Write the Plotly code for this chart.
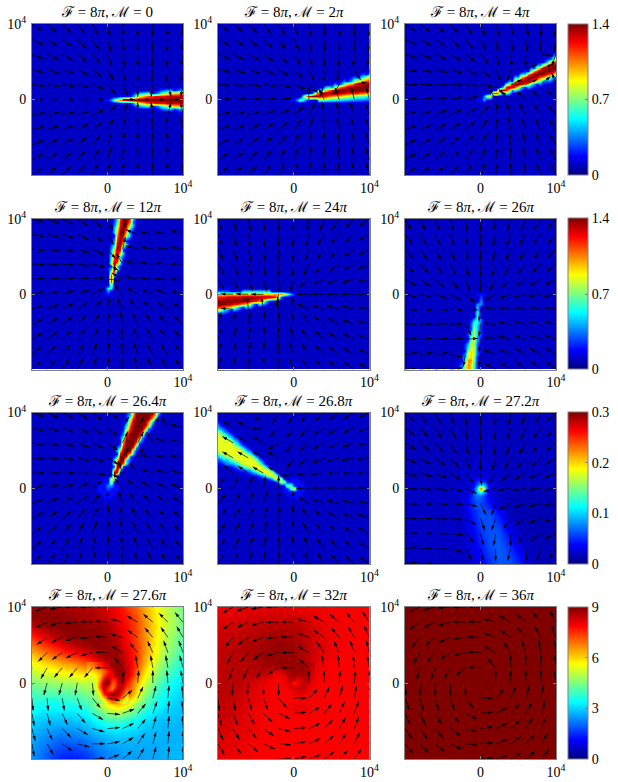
import numpy as np
import plotly.graph_objects as go

# field values are read off the picture as hex levels (0-f) along short strips
# on a 49x49 grid, everything else in a panel stays at the background level
GRID_HALF = 24
EXTENT = 10000
CORE_EXTENT = 2500
ARROW_LEN = 1650
JET = [[0, "#000080"], [0.125, "#0000ff"], [0.375, "#00ffff"], [0.625, "#ffff00"], [0.875, "#ff0000"], [1, "#800000"]]
GREY = "#808080"
FONT = "Liberation Serif"

M_LABELS = ["0", "2<i>π</i>", "4<i>π</i>", "12<i>π</i>", "24<i>π</i>", "26<i>π</i>",
            "26.4<i>π</i>", "26.8<i>π</i>", "27.2<i>π</i>", "27.6<i>π</i>", "32<i>π</i>", "36<i>π</i>"]
ROW_ZMAX = [1.4, 1.4, 0.3, 9]
ROW_TICKS = [[0, 0.7, 1.4], [0, 0.7, 1.4], [0, 0.1, 0.2, 0.3], [0, 3, 6, 9]]
ROW_TICK_TEXT = [["0", "0.7", "1.4"], ["0", "0.7", "1.4"], ["0", "0.1", "0.2", "0.3"], ["0", "3", "6", "9"]]

GLOW = [(0, -1, "222")]
GLOW_WIDE = [(3, -1, "222"), (2, -2, "22222"), (1, -3, "2222222"), (0, -3, "2223222"),
             (-1, -3, "2222222"), (-2, -2, "22222"), (-3, -1, "222")]

# (column, first row, levels)
STRIPS_1 = [(1, 0, "4"), (2, 0, "7"), (3, 0, "9"), (4, -1, "2b2"), (5, -1, "2d2"), (6, -1, "2e2"), (7, -1, "2f2"),
            (8, -1, "4f4"), (9, -1, "7f7"), (10, -1, "9f9"), (11, -1, "afa"), (12, -1, "bfb"), (13, -1, "cfc"),
            (14, -2, "2cfc2"), (15, -2, "3dfd3"), (16, -2, "4dfd4"), (17, -2, "6dfd6"), (18, -2, "7dfd7"),
            (19, -2, "8efe8"), (20, -2, "9efe9"), (21, -3, "2aefea2"), (22, -3, "3aefea3"), (23, -3, "4befeb4"),
            (24, -3, "4befeb4")]
STRIPS_2 = [(1, 0, "4"), (2, 0, "7"), (3, 0, "66"), (4, 0, "3b"), (5, 0, "2e"), (6, 1, "f4"), (7, 1, "fa"), (8, 1, "ed"),
            (9, 1, "df4"), (10, 1, "df9"), (11, 1, "cfb"), (12, 1, "bfd4"), (13, 1, "bfe8"), (14, 1, "affa2"),
            (15, 1, "aefc4"), (16, 1, "9efd7"), (17, 1, "9dfea2"), (18, 1, "8dffb4"), (19, 1, "8dffc7"),
            (20, 1, "7dffd92"), (21, 1, "7cffea4"), (22, 1, "7cffeb6"), (23, 1, "6beffc82"), (24, 1, "6beffda4")]
STRIPS_3 = [(1, 0, "44"), (2, 1, "8"), (3, 1, "9"), (4, 2, "c"), (5, 2, "e2"), (6, 2, "9d"), (7, 2, "3f5"), (8, 3, "dd"),
            (9, 3, "af8"), (10, 3, "4fd2"), (11, 4, "cfa"), (12, 4, "9fd4"), (13, 4, "5efa"), (14, 4, "2cfd5"),
            (15, 5, "9ffb2"), (16, 5, "6dfd7"), (17, 5, "4bffb3"), (18, 5, "29efd8"), (19, 6, "7cffb4"),
            (20, 6, "4bffd92"), (21, 6, "39dffb5"), (22, 7, "7cffda3"), (23, 7, "4beffc6"), (24, 7, "39dffda4")]
STRIPS_5 = [(-1, 0, "4"), (-2, 0, "7"), (-3, 0, "9"), (-4, -1, "3b"), (-5, -1, "aa"), (-6, -1, "db"), (-7, -1, "ea"),
            (-8, -2, "2fa"), (-9, -2, "6fa"), (-10, -2, "afa"), (-11, -2, "bfa"), (-12, -3, "2dfa"), (-13, -3, "4dfa"),
            (-14, -3, "8efa"), (-15, -3, "affa"), (-16, -4, "2bffa"), (-17, -4, "4cfea2"), (-18, -4, "6dfea2"),
            (-19, -4, "8dfea2"), (-20, -5, "2aefea2"), (-21, -5, "4befea3"), (-22, -5, "5bffda3"),
            (-23, -5, "7cffda3"), (-24, -6, "29dffda3")]
STRIPS_8 = [(0, 0, "a"), (-1, 0, "77"), (-2, 1, "8"), (-3, 1, "28"), (-4, 2, "98"), (-5, 2, "495"), (-6, 2, "2994"),
            (-7, 3, "5993"), (-8, 3, "39982"), (-9, 3, "269962"), (-10, 4, "49995"), (-11, 4, "379984"),
            (-12, 4, "2599984"), (-13, 5, "4799973"), (-14, 5, "35999963"), (-15, 5, "248999853"),
            (-16, 6, "369999852"), (-17, 6, "3589999742"), (-18, 6, "24699999642"), (-19, 7, "35899998532"),
            (-20, 7, "24799999853"), (-21, 7, "245899999753"), (-22, 8, "357999998743"), (-23, 8, "2468999998642"),
            (-24, 8, "23579999998542")]

# (row, first column, levels)
STRIPS_4 = [(1, 0, "4"), (2, 0, "66"), (3, 1, "8"), (4, 1, "c"), (5, 1, "e"), (6, 1, "c5"), (7, 1, "9d"), (8, 1, "5f"),
            (9, 1, "3f5"), (10, 2, "fb"), (11, 2, "de"), (12, 2, "cf5"), (13, 2, "afa"), (14, 2, "9fd2"), (15, 2, "7fe5"),
            (16, 2, "5efa"), (17, 2, "4dfc2"), (18, 2, "3cfd5"), (19, 2, "2bfe9"), (20, 3, "affb3"), (21, 3, "9efd6"),
            (22, 3, "7dfe9"), (23, 3, "6dffb3"), (24, 3, "5cffc5")]
STRIPS_6 = [(-1, 0, "3"), (-2, 0, "4"), (-3, -1, "44"), (-4, -1, "5"), (-5, -1, "5"), (-6, -2, "262"), (-7, -1, "6"),
            (-8, -2, "46"), (-9, -2, "66"), (-10, -2, "75"), (-11, -3, "385"), (-12, -3, "585"), (-13, -3, "685"),
            (-14, -4, "2894"), (-15, -4, "3884"), (-16, -4, "5983"), (-17, -4, "6983"), (-18, -5, "28a83"),
            (-19, -5, "49a83"), (-20, -5, "59a72"), (-21, -6, "26bb72"), (-22, -6, "37ba62"), (-23, -6, "49ba62"),
            (-24, -7, "259ba62")]
STRIPS_7 = [(1, 0, "44"), (2, 1, "a"), (3, 1, "98"), (4, 2, "e"), (5, 2, "fe"), (6, 2, "af6"), (7, 2, "3ff2"), (8, 3, "efc"),
            (9, 3, "aff6"), (10, 3, "5ffe3"), (11, 3, "2dffb"), (12, 4, "afff6"), (13, 4, "6effd4"), (14, 4, "3cfffa2"),
            (15, 4, "2afffe6"), (16, 5, "6efffc4"), (17, 5, "4cfffea2"), (18, 5, "3aefffd6"), (19, 5, "27dffffb4"),
            (20, 6, "5cffffea3"), (21, 6, "3aeffffc62"), (22, 6, "28dfffffb5"), (23, 7, "5bfffffda3"),
            (24, 7, "4aefffffc62")]

# smooth panels: 17x17 samples, top row first
FIELD_9 = [
    [.018, .018, .018, .018, .018, .018, .018, .018, .02, .018, .018, .018, .018, .018, .018, .018, .018],
    [.018, .018, .018, .018, .018, .018, .018, .018, .02, .018, .018, .018, .018, .018, .018, .018, .018],
    [.018, .018, .018, .018, .018, .018, .018, .018, .02, .018, .018, .018, .018, .018, .018, .018, .018],
    [.018, .018, .018, .018, .018, .018, .018, .019, .02, .019, .018, .018, .018, .018, .018, .018, .018],
    [.018, .018, .018, .018, .018, .018, .018, .019, .021, .019, .018, .018, .018, .018, .018, .018, .018],
    [.018, .018, .018, .018, .018, .018, .018, .02, .022, .02, .018, .018, .018, .018, .018, .018, .018],
    [.018, .018, .018, .018, .018, .018, .019, .022, .028, .022, .018, .018, .018, .018, .018, .018, .018],
    [.018, .018, .018, .018, .018, .018, .02, .03, .05, .03, .02, .018, .018, .018, .018, .018, .018],
    [.02, .02, .02, .02, .02, .02, .025, .04, .2, .035, .025, .02, .018, .018, .018, .018, .018],
    [.02, .02, .02, .02, .02, .02, .025, .05, .06, .035, .02, .015, .015, .015, .015, .015, .015],
    [.02, .02, .02, .02, .02, .02, .02, .045, .06, .055, .03, .015, .015, .015, .015, .015, .015],
    [.02, .02, .02, .02, .02, .02, .02, .04, .06, .06, .045, .02, .015, .015, .015, .015, .015],
    [.02, .02, .02, .02, .02, .02, .02, .035, .055, .062, .055, .03, .018, .015, .015, .015, .015],
    [.02, .02, .02, .02, .02, .02, .02, .03, .05, .062, .062, .04, .02, .016, .015, .015, .015],
    [.02, .02, .02, .02, .02, .02, .02, .028, .045, .06, .065, .05, .03, .018, .016, .016, .016],
    [.02, .02, .02, .02, .02, .02, .02, .025, .04, .055, .065, .058, .04, .022, .018, .016, .016],
    [.02, .02, .02, .02, .02, .02, .02, .025, .035, .05, .062, .062, .05, .03, .02, .018, .016],
]
FIELD_10 = [
    [8.8, 8.8, 8.8, 8.7, 8.6, 8.6, 8.5, 8.4, 8.2, 7.9, 7.5, 7, 6.3, 5.7, 5.2, 4.8, 4.4],
    [8.9, 8.9, 8.9, 8.9, 8.8, 8.7, 8.7, 8.5, 8.3, 8, 7.7, 7.2, 6.5, 5.8, 5.2, 4.8, 4.4],
    [8.4, 8.7, 8.9, 8.9, 8.9, 8.9, 8.8, 8.8, 8.6, 8.2, 7.8, 7.3, 6.6, 5.9, 5.2, 4.8, 4.3],
    [7.6, 8, 8.4, 8.7, 8.9, 8.9, 8.9, 8.9, 8.7, 8.4, 7.9, 7.3, 6.6, 5.8, 5.1, 4.6, 4.2],
    [6.9, 7.3, 7.7, 8, 8.4, 8.6, 8.8, 8.9, 8.8, 8.6, 8, 7.4, 6.6, 5.7, 5, 4.5, 4.1],
    [6.1, 6.5, 6.9, 7.2, 7.5, 7.8, 8.1, 8.6, 8.8, 8.8, 8.2, 7.5, 6.5, 5.6, 4.8, 4.3, 3.9],
    [5.5, 5.8, 6, 6.3, 6.5, 6.8, 7.2, 7.8, 8.5, 8.8, 8.4, 7.4, 6.2, 5.2, 4.5, 4, 3.6],
    [5, 5.2, 5.3, 5.5, 5.6, 5.8, 6, 6.7, 7.7, 8.7, 8.5, 7.1, 5.7, 4.8, 4.1, 3.7, 3.4],
    [4.5, 4.6, 4.7, 4.8, 4.8, 4.9, 5.2, 6, 7, 8.3, 7.8, 6.4, 5.2, 4.3, 3.8, 3.4, 3.2],
    [4, 4.1, 4.1, 4.1, 4.2, 4.3, 4.6, 5.4, 7.2, 8.2, 7.6, 5.9, 4.7, 3.9, 3.5, 3.2, 3],
    [3.7, 3.6, 3.5, 3.6, 3.7, 3.8, 4.2, 4.9, 6, 6.6, 6.2, 4.9, 4.2, 3.6, 3.3, 3, 2.9],
    [3.4, 3.2, 3.2, 3.2, 3.2, 3.3, 3.6, 4.2, 4.8, 5, 4.7, 4.1, 3.6, 3.2, 3, 2.9, 2.8],
    [3, 2.9, 2.8, 2.8, 2.8, 2.9, 3.1, 3.5, 3.8, 3.9, 3.7, 3.4, 3.1, 2.9, 2.8, 2.8, 2.7],
    [2.8, 2.6, 2.5, 2.4, 2.4, 2.5, 2.7, 2.9, 3.1, 3.2, 3.1, 3, 2.8, 2.8, 2.7, 2.7, 2.7],
    [2.6, 2.4, 2.2, 2, 2.1, 2.1, 2.3, 2.5, 2.7, 2.8, 2.8, 2.7, 2.7, 2.7, 2.7, 2.7, 2.7],
    [2.5, 2.2, 1.9, 1.7, 1.6, 1.7, 1.9, 2.2, 2.4, 2.5, 2.6, 2.6, 2.6, 2.6, 2.7, 2.7, 2.8],
    [2.4, 2.1, 1.7, 1.4, 1.3, 1.4, 1.6, 2, 2.2, 2.4, 2.5, 2.5, 2.6, 2.6, 2.7, 2.8, 2.8],
]
FIELD_11 = [
    [8, 8, 8.1, 8.1, 8.1, 8.1, 8.1, 8.1, 8.1, 8, 8, 8, 7.9, 7.9, 7.9, 7.9, 7.9],
    [8.1, 8.1, 8.2, 8.2, 8.3, 8.3, 8.3, 8.3, 8.3, 8.2, 8.1, 8, 8, 7.9, 7.9, 7.9, 7.9],
    [8.2, 8.3, 8.3, 8.4, 8.4, 8.5, 8.5, 8.5, 8.5, 8.4, 8.2, 8.1, 8, 8, 7.9, 7.9, 7.9],
    [8.3, 8.4, 8.4, 8.5, 8.6, 8.6, 8.7, 8.7, 8.6, 8.5, 8.3, 8.1, 8, 8, 7.9, 7.9, 7.9],
    [8.4, 8.4, 8.5, 8.6, 8.6, 8.7, 8.8, 8.8, 8.7, 8.6, 8.3, 8.2, 8, 8, 7.9, 7.9, 7.9],
    [8.4, 8.5, 8.5, 8.6, 8.7, 8.8, 8.8, 8.8, 8.8, 8.6, 8.3, 8.1, 8, 7.9, 7.9, 7.9, 7.9],
    [8.4, 8.5, 8.5, 8.5, 8.6, 8.7, 8.8, 8.8, 8.8, 8.6, 8.2, 8, 7.9, 7.9, 7.9, 7.9, 7.9],
    [8.4, 8.5, 8.5, 8.5, 8.5, 8.4, 8.2, 8.4, 8.7, 8.5, 8.1, 7.9, 7.9, 7.9, 7.9, 7.9, 7.9],
    [8.5, 8.5, 8.5, 8.4, 8.2, 8, 7.9, 7.9, 7.8, 8.2, 8, 7.9, 7.9, 7.9, 7.9, 7.9, 7.9],
    [8.5, 8.5, 8.4, 8.2, 8.1, 8, 7.9, 7.9, 8.2, 8.2, 8, 7.9, 7.9, 7.9, 7.9, 7.9, 7.9],
    [8.4, 8.4, 8.3, 8.2, 8.1, 8, 7.9, 8, 8.1, 8.1, 8, 7.9, 7.9, 7.9, 7.9, 7.9, 7.9],
    [8.4, 8.4, 8.3, 8.1, 8, 7.9, 7.9, 7.9, 8, 8, 7.9, 7.9, 7.9, 7.9, 7.9, 7.9, 7.9],
    [8.3, 8.3, 8.2, 8.1, 8, 7.9, 7.9, 7.9, 7.9, 7.9, 7.9, 7.9, 7.9, 7.9, 7.9, 7.9, 7.9],
    [8.3, 8.2, 8.1, 8.1, 8, 7.9, 7.9, 7.9, 7.9, 7.9, 7.9, 7.9, 7.9, 7.9, 7.9, 7.9, 7.9],
    [8.2, 8.1, 8.1, 8, 7.9, 7.9, 7.9, 7.9, 7.9, 7.9, 7.9, 7.9, 7.9, 7.9, 7.9, 7.9, 7.9],
    [8.1, 8.1, 8, 8, 7.9, 7.9, 7.9, 7.9, 7.9, 7.9, 7.9, 7.9, 7.9, 7.9, 7.9, 7.9, 7.9],
    [8.1, 8, 8, 8, 7.9, 7.9, 7.9, 7.9, 7.9, 7.9, 7.9, 7.9, 7.9, 7.9, 7.9, 7.9, 7.9],
]
FIELD_12 = [[9, 9], [9, 9]]

# finer 11x11 samples around the origin, laid over the coarse field
CORE_9 = [
    [.022, .022, .022, .022, .022, .022, .022, .022, .022, .022, .02],
    [.022, .022, .022, .022, .022, .024, .022, .022, .022, .022, .02],
    [.022, .022, .022, .025, .028, .03, .028, .025, .022, .022, .02],
    [.022, .022, .023, .03, .045, .05, .04, .028, .022, .022, .02],
    [.022, .022, .025, .03, .06, .1, .08, .04, .025, .022, .02],
    [.022, .022, .028, .04, .1, .25, .12, .04, .025, .022, .02],
    [.022, .025, .03, .05, .09, .12, .07, .035, .025, .02, .018],
    [.025, .028, .035, .055, .075, .07, .05, .035, .028, .022, .018],
    [.025, .03, .04, .055, .065, .06, .05, .04, .03, .025, .02],
    [.025, .03, .04, .05, .06, .06, .05, .045, .035, .025, .02],
    [.025, .03, .04, .05, .06, .06, .055, .05, .04, .03, .02],
]
CORE_10 = [
    [6.8, 7, 7.3, 7.6, 8, 8.5, 8.8, 8.8, 8.8, 8.6, 8.2],
    [6.3, 6.5, 6.8, 7.1, 7.5, 8, 8.5, 8.8, 8.8, 8.7, 8.3],
    [5.9, 6, 6.2, 6.5, 7, 7.6, 8.2, 8.7, 8.9, 8.8, 8.3],
    [5.5, 5.5, 5.7, 6.2, 7.3, 8, 8, 8.4, 8.9, 8.8, 8.2],
    [5.2, 5.2, 5.5, 6.5, 8, 8.8, 7.6, 7.6, 8.7, 8.7, 8],
    [5, 5, 5.4, 7, 8.8, 8.9, 7.2, 7.2, 8.5, 8.5, 7.6],
    [4.9, 4.9, 5.3, 7.2, 8.5, 7.8, 6.6, 7.4, 8.6, 8.2, 7.2],
    [4.7, 4.8, 5, 6.5, 8.2, 7.5, 7.2, 8.2, 8.8, 7.8, 6.8],
    [4.5, 4.6, 4.8, 5.6, 7.6, 8.4, 8.8, 8.8, 8.3, 7.2, 6.2],
    [4.3, 4.4, 4.6, 5, 6, 7.3, 8, 8, 7.5, 6.5, 5.7],
    [4.1, 4.2, 4.4, 4.6, 5.2, 6, 6.6, 6.7, 6.2, 5.4, 4.9],
]
CORE_11 = [
    [8.7, 8.8, 8.8, 8.8, 8.8, 8.8, 8.8, 8.8, 8.7, 8.6, 8.4],
    [8.5, 8.6, 8.7, 8.8, 8.8, 8.8, 8.8, 8.8, 8.7, 8.5, 8.3],
    [8.2, 8.3, 8.4, 8.6, 8.7, 8.8, 8.8, 8.8, 8.7, 8.5, 8.2],
    [8, 8, 8.1, 8.3, 8.6, 8.7, 8.6, 8.7, 8.6, 8.4, 8.2],
    [7.9, 7.9, 7.9, 8.1, 8.5, 8.4, 8.1, 8.3, 8.5, 8.3, 8.1],
    [7.9, 7.9, 7.9, 8, 8.3, 7.6, 8, 8.3, 8.4, 8.2, 8],
    [7.9, 7.9, 7.9, 7.9, 8.2, 8.3, 8.3, 8.4, 8.3, 8.1, 8],
    [7.9, 7.9, 7.9, 7.9, 8, 8.2, 8.3, 8.3, 8.2, 8.1, 8],
    [7.9, 7.9, 7.9, 7.9, 7.9, 8, 8.1, 8.1, 8.1, 8, 8],
    [7.9, 7.9, 7.9, 7.9, 7.9, 7.9, 8, 8, 8, 8, 7.9],
    [7.9, 7.9, 7.9, 7.9, 7.9, 7.9, 7.9, 8, 8, 7.9, 7.9],
]

# arrow headings in degrees, 11x11 tails from y=1e4 down to y=-1e4, left to right
N = None
ANGLES_1 = [
    [-34, -40, -44, -53, -63, -78, -85, -90, -92, -93, -95],
    [-28, -34, -37, -47, -58, -75, -84, -90, -92, -94, -96],
    [-22, -27, -30, -39, -50, -70, -82, -90, -93, -95, -98],
    [-15, -18, -21, -28, -39, -61, -77, -90, -94, -97, -100],
    [-8, -10, -11, -15, -22, -50, -66, -90, -98, -75, -100],
    [0, 0, 0, 0, 0, N, 0, 0, 0, 0, 0],
    [8, 10, 11, 15, 22, 50, 66, 90, 98, 75, 100],
    [15, 18, 21, 28, 39, 61, 77, 90, 94, 97, 100],
    [22, 27, 30, 39, 50, 70, 82, 90, 93, 95, 98],
    [28, 34, 37, 47, 58, 75, 84, 90, 92, 94, 96],
    [34, 40, 44, 53, 63, 78, 85, 90, 92, 93, 95],
]
ANGLES_2 = [
    [-35, -39, -45, -52, -60, -70, -81, -85, -87, -90, -92],
    [-29, -33, -38, -45, -54, -65, -79, -86, -89, -92, -95],
    [-22, -25, -30, -36, -45, -57, -75, -88, -92, -96, -101],
    [-14, -17, -20, -25, -32, -45, -67, -92, -99, -60, -80],
    [-6, -7, -8, -11, -14, -22, -44, -107, -120, 10, 10],
    [3, 3, 4, 5, 6, N, 90, 115, 110, 105, 105],
    [11, 13, 15, 19, 25, 37, 61, 100, 103, 110, 112],
    [19, 22, 26, 32, 40, 53, 72, 93, 100, 105, 110],
    [26, 30, 35, 41, 50, 62, 78, 90, 97, 103, 108],
    [33, 37, 42, 49, 58, 68, 81, 90, 96, 101, 106],
    [38, 43, 48, 55, 63, 72, 82, 90, 95, 100, 105],
]
ANGLES_3 = [
    [-33, -38, -43, -50, -58, -68, -73, -76, -78, -90, -95],
    [-26, -30, -35, -42, -51, -64, -78, -78, -85, -95, -100],
    [-19, -22, -25, -30, -38, -52, -72, -85, -90, -8, -110],
    [-11, -13, -15, -19, -26, -39, -65, -105, 23, 23, 20],
    [-3, -3, -4, -5, -7, -11, -52, 23, 23, 40, 110],
    [6, 7, 8, 11, 14, N, 120, 140, 137, 135, 135],
    [15, 17, 20, 24, 30, 45, 80, 110, 120, 125, 130],
    [20, 24, 27, 33, 40, 55, 80, 100, 110, 118, 125],
    [25, 29, 34, 40, 48, 60, 80, 95, 105, 115, 122],
    [30, 34, 39, 46, 53, 65, 80, 92, 103, 112, 118],
    [35, 39, 44, 50, 58, 68, 80, 92, 102, 110, 115],
]
ANGLES_4 = [
    [-15, -20, -25, -32, -43, -65, 77, 175, 170, 165, 160],
    [-12, -15, -20, -26, -37, -60, 77, 160, 170, 170, 160],
    [-7, -9, -12, -18, -27, -50, 77, 165, 170, 172, 170],
    [-3, -4, -6, -8, -14, -30, 120, 165, 172, 175, 178],
    [3, 4, 5, 6, 8, -5, 150, 170, 175, 178, 180],
    [12, 14, 17, 20, 27, N, 130, 150, 155, 160, 165],
    [20, 24, 27, 35, 45, 80, 115, 130, 140, 145, 150],
    [27, 31, 36, 45, 55, 80, 100, 115, 125, 135, 140],
    [33, 38, 43, 52, 62, 80, 95, 110, 120, 130, 135],
    [40, 45, 50, 58, 68, 82, 95, 108, 117, 125, 130],
    [43, 48, 55, 63, 72, 83, 95, 105, 113, 120, 127],
]
ANGLES_5 = [
    [-72, -75, -80, -85, -88, -92, -98, -110, -125, -135, -145],
    [-70, -75, -80, -85, -90, -95, -105, -120, -130, -140, -148],
    [-65, -70, -77, -83, -88, -95, -108, -125, -135, -145, -150],
    [-60, -65, -72, -80, -88, -97, -115, -135, -145, -152, -158],
    [-60, -65, -70, -75, -85, -105, -140, -155, -160, -165, -168],
    [178, 178, 178, 180, -100, N, 180, 180, 180, 180, 180],
    [175, 175, 95, 100, 95, 100, 155, 160, 165, 165, 170],
    [75, 78, 82, 85, 88, 100, 120, 140, 150, 158, 163],
    [72, 75, 80, 85, 90, 105, 125, 138, 148, 155, 160],
    [75, 78, 82, 86, 92, 110, 125, 135, 145, 150, 155],
    [78, 80, 84, 88, 95, 112, 122, 132, 140, 145, 150],
]
ANGLES_6 = [
    [-60, -65, -70, -75, -82, -90, -100, -108, -115, -122, -128],
    [-55, -60, -65, -72, -80, -90, -102, -110, -118, -125, -130],
    [-50, -55, -60, -68, -78, -90, -103, -113, -120, -128, -135],
    [-42, -47, -53, -62, -75, -90, -108, -120, -130, -137, -142],
    [-30, -35, -42, -52, -70, -90, -118, -135, -145, -150, -152],
    [-15, -17, -20, -28, -42, N, -150, -160, -165, -168, -170],
    [-3, -3, -3, -3, -2, -97, 170, 170, 170, 170, 172],
    [3, 3, 3, 3, -62, -97, 175, 170, 165, 165, 165],
    [5, 5, 5, 5, 5, -97, 170, 165, 160, 160, 160],
    [8, 8, 8, -12, -100, -97, 160, 155, 150, 150, 150],
    [10, 10, 10, 8, -98, -97, 150, 145, 140, 140, 140],
]
ANGLES_7 = [
    [-20, -25, -28, -32, -38, -30, 60, 62, 62, 70, 130],
    [-15, -18, -22, -25, -30, -40, 60, 60, 60, 120, 165],
    [-12, -14, -17, -20, -27, -35, 65, 62, 120, 160, 165],
    [-5, -7, -9, -12, -18, -30, 60, 60, 165, 170, 170],
    [0, 0, 0, -2, -8, -20, 110, 130, 160, 165, 170],
    [15, 18, 20, 25, 35, N, 130, 140, 150, 155, 160],
    [20, 25, 30, 35, 50, 90, 110, 130, 140, 145, 150],
    [30, 35, 40, 50, 60, 85, 105, 120, 130, 137, 145],
    [35, 40, 48, 58, 70, 85, 100, 112, 122, 130, 138],
    [40, 45, 55, 65, 75, 85, 97, 107, 117, 125, 133],
    [45, 50, 58, 68, 77, 87, 95, 103, 112, 120, 128],
]
ANGLES_8 = [
    [150, 150, 150, -135, -120, -115, -130, -135, -145, -150, -155],
    [150, 150, 150, -172, -135, -125, -135, -145, -150, -155, -160],
    [150, 150, 150, 150, -148, -130, -140, -150, -155, -160, -165],
    [150, 150, 150, 150, 150, -125, -145, -155, -165, -168, -170],
    [135, 140, 145, 150, 150, -165, -170, -175, -178, -178, -178],
    [60, 65, 70, 80, 90, N, 180, 178, 178, 178, 178],
    [50, 55, 65, 72, 85, 95, 150, 160, 165, 168, 170],
    [50, 55, 62, 70, 85, 95, 125, 140, 150, 155, 160],
    [52, 58, 65, 75, 87, 95, 118, 130, 140, 148, 153],
    [55, 60, 68, 77, 88, 95, 112, 125, 135, 142, 148],
    [60, 65, 72, 82, 88, 92, 108, 120, 130, 137, 145],
]
ANGLES_9 = [
    [-45, -60, -65, -72, -85, -90, -92, -98, -105, -118, -135],
    [-40, -50, -58, -65, -80, -90, -95, -105, -115, -125, -135],
    [-33, -40, -50, -60, -75, -88, -97, -110, -120, -130, -140],
    [-25, -30, -37, -47, -65, -90, -105, -120, -130, -140, -148],
    [-15, -17, -22, -32, -50, -85, -125, -140, -150, -155, -158],
    [-5, -7, -10, -15, -25, N, -165, -170, -170, -172, -172],
    [-3, -3, -4, -5, -15, -65, -110, -152, -160, -165, -170],
    [0, 0, -3, -5, -30, -70, -110, -125, -150, -160, -165],
    [3, 2, 0, -5, -45, -75, -100, -90, -130, -145, -155],
    [8, 5, -3, -15, -60, -75, -90, -105, -85, -110, -125],
    [10, 3, -5, -25, -60, -75, -85, -100, -85, -90, -110],
]
ANGLES_10 = [
    [-160, -160, -170, 180, 180, 175, 165, 150, 140, 130, 125],
    [-145, -155, -165, -175, 178, 175, 165, 150, 140, 135, 130],
    [-135, -145, -155, -165, -175, 175, 165, 145, 130, 125, 120],
    [-125, -135, -145, -155, -165, 178, 150, 130, 115, 110, 110],
    [-110, -120, -130, -130, -130, 180, 130, 100, 100, 100, 105],
    [-100, -105, -105, -100, -85, N, 85, 85, 90, 95, 100],
    [-85, -85, -80, -70, -50, -10, 40, 65, 75, 85, 95],
    [-80, -75, -65, -50, -30, -5, 20, 50, 70, 85, 95],
    [-75, -65, -45, -30, -15, 5, 25, 50, 75, 85, 92],
    [-80, -60, -35, -15, 0, 10, 30, 55, 75, 85, 90],
    [-80, -55, -30, -10, 5, 20, 40, 60, 75, 85, 90],
]
ANGLES_11 = [
    [-145, -150, -160, -170, 180, 175, 165, 150, 140, 130, 125],
    [-135, -145, -155, -165, 180, 178, 165, 150, 140, 130, 125],
    [-125, -130, -145, -160, -175, 178, 160, 145, 130, 120, 115],
    [-115, -120, -130, -145, -165, 180, 150, 125, 115, 110, 105],
    [-105, -110, -115, -125, -150, 180, 140, 100, 95, 95, 100],
    [-95, -95, -95, -90, -90, N, 90, 90, 85, 85, 90],
    [-85, -80, -75, -70, -50, 0, 45, 65, 75, 80, 85],
    [-75, -70, -60, -45, -25, 5, 30, 50, 65, 70, 80],
    [-65, -60, -50, -35, -15, 5, 25, 45, 60, 70, 75],
    [-60, -50, -40, -25, -5, 10, 25, 40, 55, 65, 70],
    [-50, -45, -35, -15, 0, 10, 20, 35, 45, 55, 65],
]
ANGLES_12 = [
    [-150, -155, -165, -175, -178, 178, 165, 155, 145, 135, 125],
    [-135, -145, -155, -165, 178, 178, 165, 150, 140, 130, 120],
    [-125, -130, -140, -155, -170, 178, 160, 145, 130, 120, 110],
    [-110, -120, -130, -145, -165, 178, 150, 125, 110, 100, 100],
    [-100, -105, -110, -120, -140, 178, 130, 90, 90, 90, 95],
    [-85, -90, -90, -90, -90, N, 90, 90, 90, 90, 100],
    [-70, -75, -75, -70, -50, 0, 45, 65, 75, 80, 85],
    [-65, -65, -60, -45, -25, 5, 25, 45, 60, 70, 80],
    [-55, -55, -50, -35, -15, 10, 25, 40, 55, 65, 70],
    [-50, -45, -40, -25, -5, 5, 20, 35, 45, 55, 65],
    [-45, -40, -30, -15, -5, 5, 15, 30, 40, 50, 60],
]

# field, read by columns (None for plain tables), glow, core, arrows
PANELS = [
    (STRIPS_1, True, GLOW, None, ANGLES_1), (STRIPS_2, True, GLOW, None, ANGLES_2), (STRIPS_3, True, GLOW, None, ANGLES_3),
    (STRIPS_4, False, GLOW, None, ANGLES_4), (STRIPS_5, True, GLOW, None, ANGLES_5), (STRIPS_6, False, GLOW, None, ANGLES_6),
    (STRIPS_7, False, GLOW_WIDE, None, ANGLES_7), (STRIPS_8, True, GLOW_WIDE, None, ANGLES_8),
    (FIELD_9, None, [], CORE_9, ANGLES_9),
    (FIELD_10, None, [], CORE_10, ANGLES_10), (FIELD_11, None, [], CORE_11, ANGLES_11),
    (FIELD_12, None, [], None, ANGLES_12),
]

# axes boxes in page pixels
WIDTH, HEIGHT = 618, 782
COLS_PX = [(32, 183), (218, 369.5), (405, 556)]
ROWS_PX = [(24, 175), (219, 369.5), (412.5, 564), (607, 759)]
BAR_LEFT, BAR_WIDTH = 568, 20


def strip_field(strips, by_column, glow, zmax):
    """Background level everywhere, then the read strips on top with a soft rim."""
    size = 2 * GRID_HALF + 1
    levels = np.full((size, size), 1.0)

    def put(line, pos, value, keep_higher=False):
        row, col = (pos, line) if by_column else (line, pos)
        row, col = row + GRID_HALF, col + GRID_HALF
        if 0 <= row < size and 0 <= col < size:
            levels[row, col] = max(levels[row, col], value) if keep_higher else value

    for row, start, digits in glow:
        for k, ch in enumerate(digits):
            levels[row + GRID_HALF, start + k + GRID_HALF] = int(ch, 16)
    for line, start, digits in strips:
        if abs(line) >= 8:
            put(line, start - 1, 0.5 * int(digits[0], 16), True)
            put(line, start + len(digits), 0.5 * int(digits[-1], 16), True)
    for line, start, digits in strips:
        for k, ch in enumerate(digits):
            put(line, start + k, int(ch, 16))
    axis = np.linspace(-EXTENT, EXTENT, size)
    return axis, axis, levels / 15 * zmax


def table_field(table, extent=EXTENT):
    values = np.array(table, dtype=float)
    xs = np.linspace(-extent, extent, values.shape[1])
    ys = np.linspace(extent, -extent, values.shape[0])
    return xs, ys, values


def arrow_traces(angles, xref, yref):
    tails = np.linspace(-EXTENT, EXTENT, 11)
    line_x, line_y, head_x, head_y, head_a = [], [], [], [], []
    for r, row in enumerate(angles):
        for c, a in enumerate(row):
            if a is None:
                continue
            x0, y0 = tails[c], tails[10 - r]
            x1 = x0 + ARROW_LEN * np.cos(np.radians(a))
            y1 = y0 + ARROW_LEN * np.sin(np.radians(a))
            line_x += [x0, x1, None]
            line_y += [y0, y1, None]
            head_x.append(x1)
            head_y.append(y1)
            head_a.append(90 - a)
    return [
        go.Scatter(x=line_x, y=line_y, mode="lines", line=dict(color="black", width=0.7),
                   xaxis=xref, yaxis=yref, hoverinfo="skip", showlegend=False),
        go.Scatter(x=head_x, y=head_y, mode="markers", xaxis=xref, yaxis=yref, hoverinfo="skip", showlegend=False,
                   marker=dict(symbol="arrow", size=5, angle=head_a, color="black", line=dict(width=0))),
    ]


fig = go.Figure()
layout = {}
annotations = []
for n, (field, by_column, glow, core, angles) in enumerate(PANELS):
    r, c = divmod(n, 3)
    zmax = ROW_ZMAX[r]
    if by_column is None:
        xs, ys, z = table_field(field)
    else:
        xs, ys, z = strip_field(field, by_column, glow, zmax)
    (left, right), (top, bottom) = COLS_PX[c], ROWS_PX[r]
    suffix = "" if n == 0 else str(n + 1)
    heat = go.Heatmap(x=xs, y=ys, z=z, zmin=0, zmax=zmax, zsmooth="best", colorscale=JET, hoverinfo="skip",
                      xaxis="x" + suffix, yaxis="y" + suffix, showscale=c == 2)
    if c == 2:
        heat.colorbar = dict(
            x=BAR_LEFT / WIDTH, xanchor="left", xpad=0, ypad=0, thickness=BAR_WIDTH, thicknessmode="pixels",
            y=1 - bottom / HEIGHT, yanchor="bottom", len=(bottom - top) / HEIGHT, lenmode="fraction",
            outlinecolor=GREY, outlinewidth=1, tickvals=ROW_TICKS[r], ticktext=ROW_TICK_TEXT[r],
            ticks="inside", ticklen=3, tickcolor=GREY, tickfont=dict(family=FONT, size=14, color="black"))
    fig.add_trace(heat)
    if core is not None:
        cx, cy, cz = table_field(core, CORE_EXTENT)
        fig.add_trace(go.Heatmap(x=cx, y=cy, z=cz, zmin=0, zmax=zmax, zsmooth="best", colorscale=JET, hoverinfo="skip",
                                 xaxis="x" + suffix, yaxis="y" + suffix, showscale=False))
    for tr in arrow_traces(angles, "x" + suffix, "y" + suffix):
        fig.add_trace(tr)
    axis = dict(range=[-EXTENT, EXTENT], tickvals=[0, EXTENT], ticktext=["0", "10<sup>4</sup>"], ticks="inside", ticklen=3,
                tickcolor=GREY, showline=True, linecolor=GREY, linewidth=1, mirror="ticks", showgrid=False,
                zeroline=False, tickfont=dict(family=FONT, size=14, color="black"))
    layout["xaxis" + suffix] = dict(axis, domain=[left / WIDTH, right / WIDTH], anchor="y" + suffix, ticklabelstandoff=0)
    layout["yaxis" + suffix] = dict(axis, domain=[1 - bottom / HEIGHT, 1 - top / HEIGHT], anchor="x" + suffix, ticklabelstandoff=2)
    annotations.append(dict(text=f"ℱ = 8<i>π</i>, ℳ = {M_LABELS[n]}", x=(left + right) / 2 / WIDTH, y=1 - (top - 2) / HEIGHT,
                            xref="paper", yref="paper", xanchor="center", yanchor="bottom", showarrow=False,
                            font=dict(family=FONT, size=15, color="black")))

fig.update_layout(width=WIDTH, height=HEIGHT, margin=dict(l=0, r=0, t=0, b=0, autoexpand=False), paper_bgcolor="white",
                  plot_bgcolor="white", annotations=annotations, **layout)
fig.write_html("out.html", config={"displayModeBar": False}, post_script="document.body.style.margin='0';")
